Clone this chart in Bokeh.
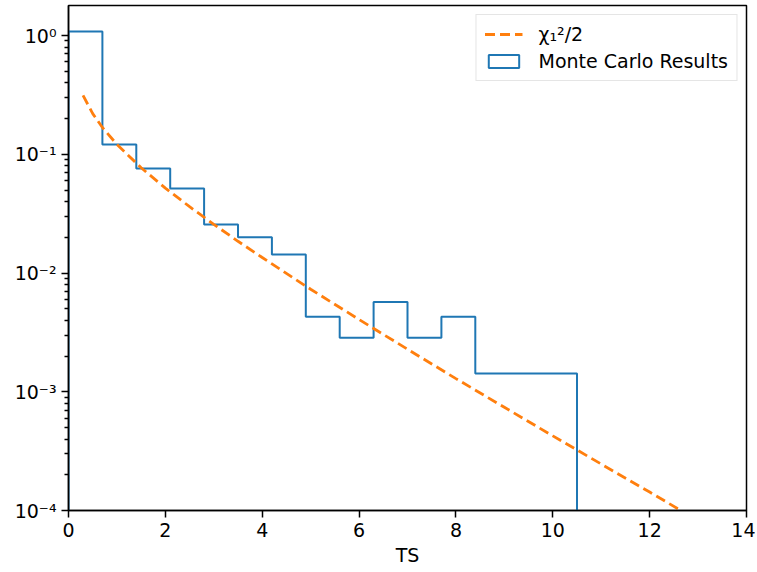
from bokeh.plotting import figure
from bokeh.models import Range1d, FixedTicker, Legend, LegendItem, ColumnDataSource
from bokeh.embed import file_html
from bokeh.resources import INLINE

# Histogram (density) of Monte Carlo TS values
bin_edges = [0.0, 0.7, 1.4, 2.1, 2.8, 3.5, 4.2, 4.9, 5.6, 6.3, 7.0, 7.7, 8.4, 9.1, 9.8, 10.5]
mc_density = [1.08, 0.121, 0.0759, 0.0515, 0.0256, 0.0200, 0.0143, 0.00428, 0.00285,
              0.00570, 0.00285, 0.00428, 0.001425, 0.001425, 0.001425]

# chi^2_1 / 2 curve
curve_ts = [0.3, 0.5, 0.7, 1.0, 1.5, 2.0, 2.5, 3.0, 3.5, 4.0, 5.0, 6.0, 7.0, 8.0, 9.0, 10.0, 11.0, 12.0, 12.7]
curve_val = [0.313, 0.220, 0.168, 0.121, 0.077, 0.0519, 0.0362, 0.0257, 0.0185, 0.0135, 0.0073,
             0.00406, 0.00228, 0.00129, 0.00074, 0.000425, 0.000246, 0.000143, 0.000097]

x_ticks = [0, 2, 4, 6, 8, 10, 12, 14]
y_ticks = [1e-4, 1e-3, 1e-2, 1e-1, 1e0]
y_minor_ticks = [round(m * t, 6) for t in y_ticks for m in range(2, 10)]
y_tick_labels = ["10\u207b\u2074", "10\u207b\u00b3", "10\u207b\u00b2", "10\u207b\u00b9", "10\u2070"]

BLUE = "#1f77b4"
ORANGE = "#ff7f0e"
FONT = "DejaVu Sans"
FS = "19px"

p = figure(width=755, height=570, y_axis_type="log", output_backend="svg",
           toolbar_location=None, x_range=Range1d(0, 14), y_range=Range1d(1e-4, 1.79),
           min_border_left=68, min_border_right=9, min_border_top=5, min_border_bottom=60)
p.grid.visible = False
p.outline_line_color = "black"
p.outline_line_width = 1.5
p.background_fill_color = "white"

# step outline of histogram
floor = 1e-7
sx = [bin_edges[0]]
sy = [floor]
for i, h in enumerate(mc_density):
    sx += [bin_edges[i], bin_edges[i + 1]]
    sy += [h, h]
sx.append(bin_edges[-1])
sy.append(floor)
hist_r = p.line(sx, sy, line_color=BLUE, line_width=2)

curve_r = p.line(curve_ts, curve_val, line_color=ORANGE, line_width=2.8, line_dash="10 5")

# legend proxy for histogram patch (degenerate, below visible range)
proxy = p.quad(source=ColumnDataSource(dict(left=[bin_edges[0]], right=[bin_edges[0]],
                                            top=[floor], bottom=[floor])),
               left="left", right="right", top="top", bottom="bottom",
               fill_color="white", line_color=BLUE, line_width=2)

legend = Legend(items=[LegendItem(label="\u03c7\u2081\u00b2/2", renderers=[curve_r]),
                       LegendItem(label="Monte Carlo Results", renderers=[proxy])],
                location="top_right")
legend.label_text_font = FONT
legend.label_text_font_size = FS
legend.label_text_color = "black"
legend.border_line_color = "#cccccc"
legend.border_line_width = 1.5
legend.background_fill_alpha = 0.8
legend.glyph_width = 38
legend.glyph_height = 16
legend.label_height = 22
legend.label_standoff = 16
legend.spacing = 5
legend.padding = 8
legend.margin = 9
p.add_layout(legend)

xax = p.xaxis[0]
yax = p.yaxis[0]
xax.ticker = FixedTicker(ticks=x_ticks)
yax.ticker = FixedTicker(ticks=y_ticks, minor_ticks=y_minor_ticks)
yax.major_label_overrides = {t: l for t, l in zip(y_ticks, y_tick_labels)}
xax.axis_label = "TS"

for ax in (xax, yax):
    ax.axis_line_color = "black"
    ax.axis_line_width = 1.5
    ax.major_tick_line_color = "black"
    ax.major_tick_line_width = 1.5
    ax.major_tick_out = 7
    ax.major_tick_in = 0
    ax.major_label_text_font = FONT
    ax.major_label_text_font_size = FS
    ax.major_label_text_color = "black"
    ax.axis_label_text_font = FONT
    ax.axis_label_text_font_size = FS
    ax.axis_label_text_font_style = "normal"
    ax.axis_label_text_color = "black"
    ax.major_label_standoff = 5

yax.minor_tick_line_color = "black"
yax.minor_tick_line_width = 1.3
yax.minor_tick_out = 4
yax.minor_tick_in = 0
xax.minor_tick_line_color = None
xax.axis_label_standoff = 4

open("out.html", "w").write(file_html(p, INLINE))
